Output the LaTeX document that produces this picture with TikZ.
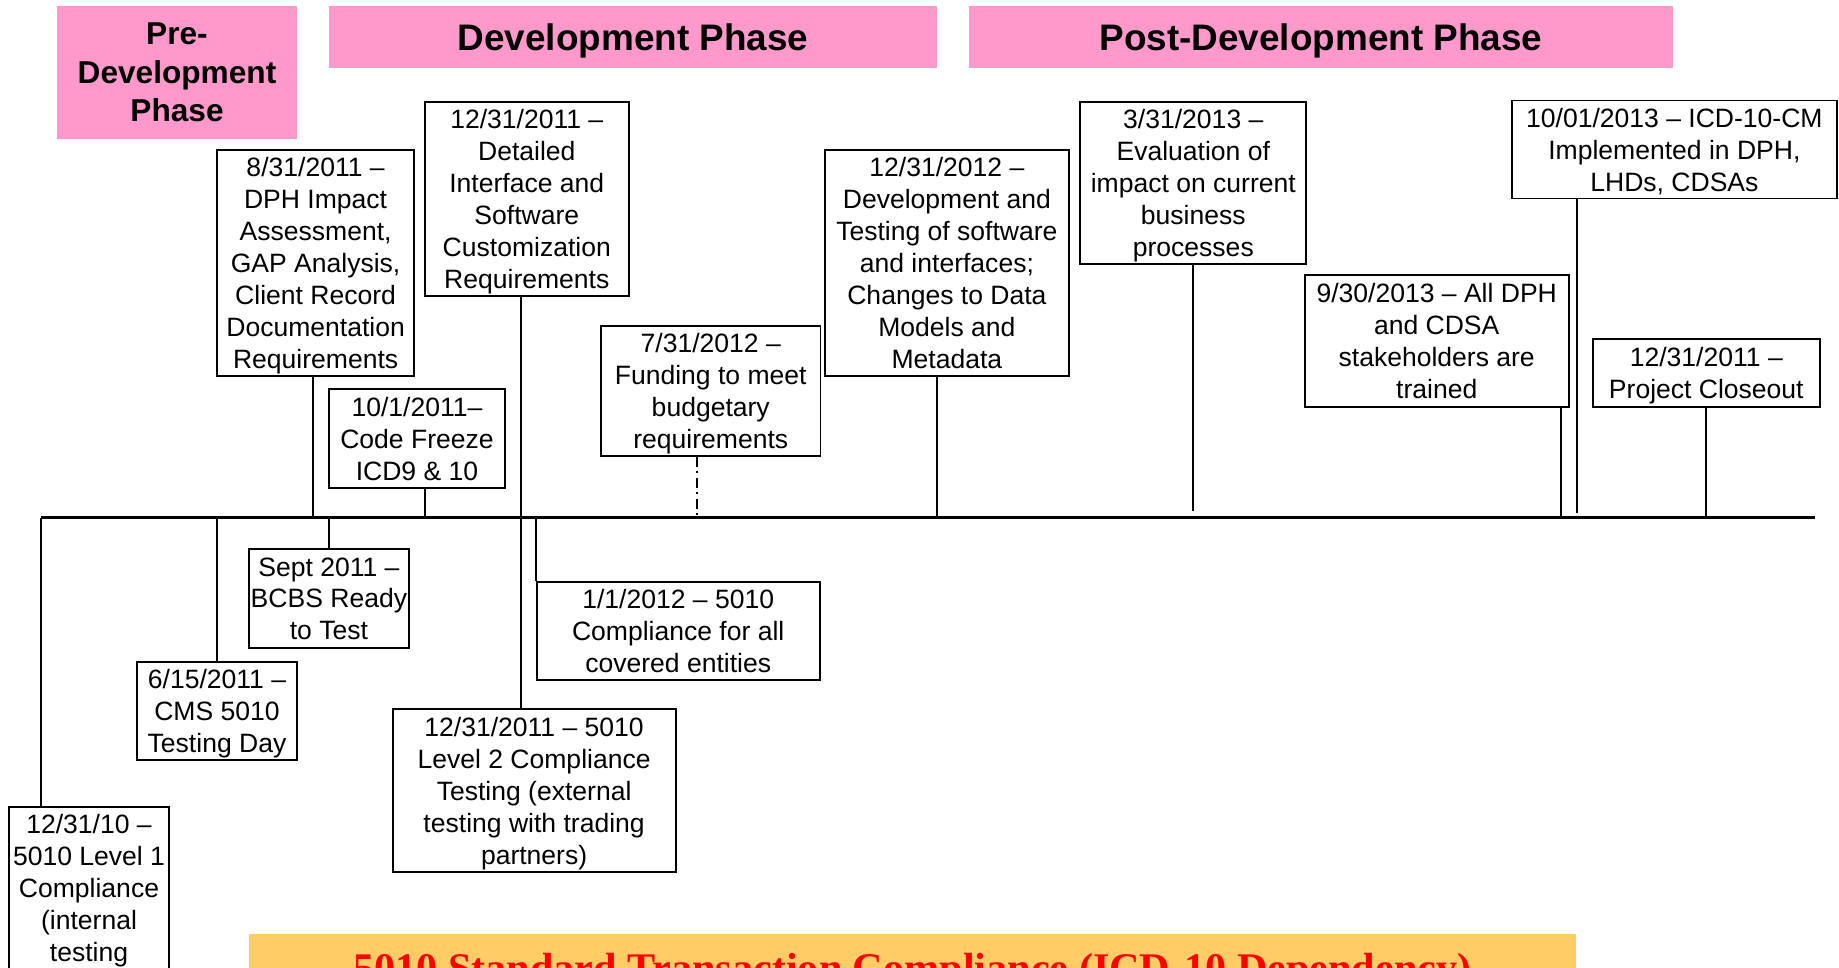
\documentclass[tikz,border=0pt]{standalone}
\usepackage{fontspec}
\setmainfont{Liberation Sans}
\newfontfamily\bandfont{Liberation Serif}
\definecolor{phasepink}{HTML}{FF99CC}
\definecolor{bandorange}{HTML}{FFCC66}

\begin{document}
\begin{tikzpicture}[
		event/.style={draw, line width=1.1pt, align=center, inner xsep=0.02cm, inner ysep=0.05cm, text depth=0pt, font=\fontsize{15.1}{18.15}\selectfont},
		phase/.style={fill=phasepink, align=center, inner sep=0pt, font=\bfseries\fontsize{21}{25}\selectfont},
		link/.style={line width=1.1pt}
	]
		\useasboundingbox (0,0) rectangle (36.78,-19.34);
		\clip (0,0) rectangle (36.78,-19.34);
		\fill[white] (0,0) rectangle (36.78,-19.34);

		% phases
		\node[phase, minimum width=4.796cm, minimum height=2.654cm, font=\bfseries\fontsize{18}{21.7}\selectfont] (pre) at (3.54,-1.446) {Pre-\\Development\\Phase};
		\node[phase, minimum width=12.16cm, minimum height=1.234cm, text depth=0pt] (dev) at (12.66,-0.736) {Development Phase};
		\node[phase, minimum width=14.07cm, minimum height=1.234cm, text depth=0pt] (post) at (26.42,-0.736) {Post-Development Phase};

		% events
		\node[event, anchor=north, minimum width=3.2cm, inner ysep=0.16cm, text depth=3cm] (d1) at (1.78,-16.114) {12/31/10 --\\5010 Level 1\\Compliance\\(internal\\testing};
		\node[event, minimum width=3.2cm, minimum height=1.966cm] (d2) at (4.34,-14.216) {6/15/2011 --\\CMS 5010\\Testing Day};
		\node[event, minimum width=3.194cm, minimum height=1.974cm] (d3) at (6.578,-11.974) {Sept 2011 --\\BCBS Ready\\to Test};
		\node[event, minimum width=3.948cm, minimum height=4.532cm] (d4) at (6.312,-5.26) {8/31/2011 --\\DPH Impact\\Assessment,\\GAP Analysis,\\Client Record\\Documentation\\Requirements};
		\node[event, minimum width=3.518cm, minimum height=1.98cm] (d5) at (8.34,-8.776) {10/1/2011--\\Code Freeze\\ICD9 \& 10};
		\node[event, minimum width=4.09cm, minimum height=3.886cm] (d6) at (10.536,-3.976) {12/31/2011 --\\Detailed\\Interface and\\Software\\Customization\\Requirements};
		\node[event, minimum width=5.66cm, minimum height=3.254cm] (d7) at (10.682,-15.814) {12/31/2011 -- 5010\\Level 2 Compliance\\Testing (external\\testing with trading\\partners)};
		\node[event, minimum width=5.66cm, minimum height=1.972cm] (d8) at (13.564,-12.62) {1/1/2012 -- 5010\\Compliance for all\\covered entities};
		\node[event, minimum width=4.39cm, minimum height=2.6cm] (d9) at (14.215,-7.814) {7/31/2012 --\\Funding to meet\\budgetary\\requirements};
		\node[event, minimum width=4.874cm, minimum height=4.526cm] (d10) at (18.938,-5.257) {12/31/2012 --\\Development and\\Testing of software\\and interfaces;\\Changes to Data\\Models and\\Metadata};
		\node[event, minimum width=4.52cm, minimum height=3.246cm] (d11) at (23.866,-3.656) {3/31/2013 --\\Evaluation of\\impact on current\\business\\processes};
		\node[event, minimum width=5.274cm, minimum height=2.646cm] (d12) at (28.734,-6.816) {9/30/2013 -- All DPH\\and CDSA\\stakeholders are\\trained};
		\node[event, minimum width=6.494cm, minimum height=1.96cm] (d13) at (33.488,-2.99) {10/01/2013 -- ICD-10-CM\\Implemented in DPH,\\LHDs, CDSAs};
		\node[event, minimum width=4.546cm, minimum height=1.354cm] (d14) at (34.126,-7.457) {12/31/2011 --\\Project Closeout};

		\node[fill=bandorange, text=red, anchor=north, minimum width=26.54cm, inner ysep=0.38cm, font=\bandfont\bfseries\fontsize{24}{28}\selectfont] (band) at (18.25,-18.68) {5010 Standard Transaction Compliance (ICD-10 Dependency)};

		% timeline
		\coordinate (tlw) at (0.814,-10.354);
		\coordinate (tle) at (36.30,-10.354);
		\draw[line width=1.4pt] (tlw) -- (tle);

		\coordinate (t0831) at (6.254,-10.354);
		\coordinate (t1001) at (8.495,-10.354);
		\coordinate (t1231) at (10.412,-10.354);
		\coordinate (t0731) at (13.94,-10.354);
		\coordinate (t1212) at (18.732,-10.354);
		\coordinate (t0313) at (23.854,-10.214);
		\coordinate (t0930) at (31.22,-10.354);
		\coordinate (t1013) at (31.54,-10.26);

		\draw[link] (tlw) -- (tlw |- d1.north);
		\draw[link] (d2.north) -- (d2.north |- tlw);
		\draw[link] (d3.north) -- (d3.north |- tlw);
		\draw[link] (t0831) -- (t0831 |- d4.south);
		\draw[link] (t1001) -- (t1001 |- d5.south);
		\draw[link] (t1231 |- d6.south) -- (t1231 |- d7.north);
		\draw[link] (d8.north west) -- (d8.north west |- tlw);
		\draw[link, dash pattern=on 0.2cm off 0.09cm on 0.04cm off 0.09cm] (t0731 |- d9.south) -- (t0731);
		\draw[link] (t1212) -- (t1212 |- d10.south);
		\draw[link] (t0313) -- (t0313 |- d11.south);
		\draw[link] (t0930) -- (t0930 |- d12.south);
		\draw[link] (t1013) -- (t1013 |- d13.south);
		\draw[link] (d14.south) -- (d14.south |- tlw);

	\end{tikzpicture}
\end{document}
